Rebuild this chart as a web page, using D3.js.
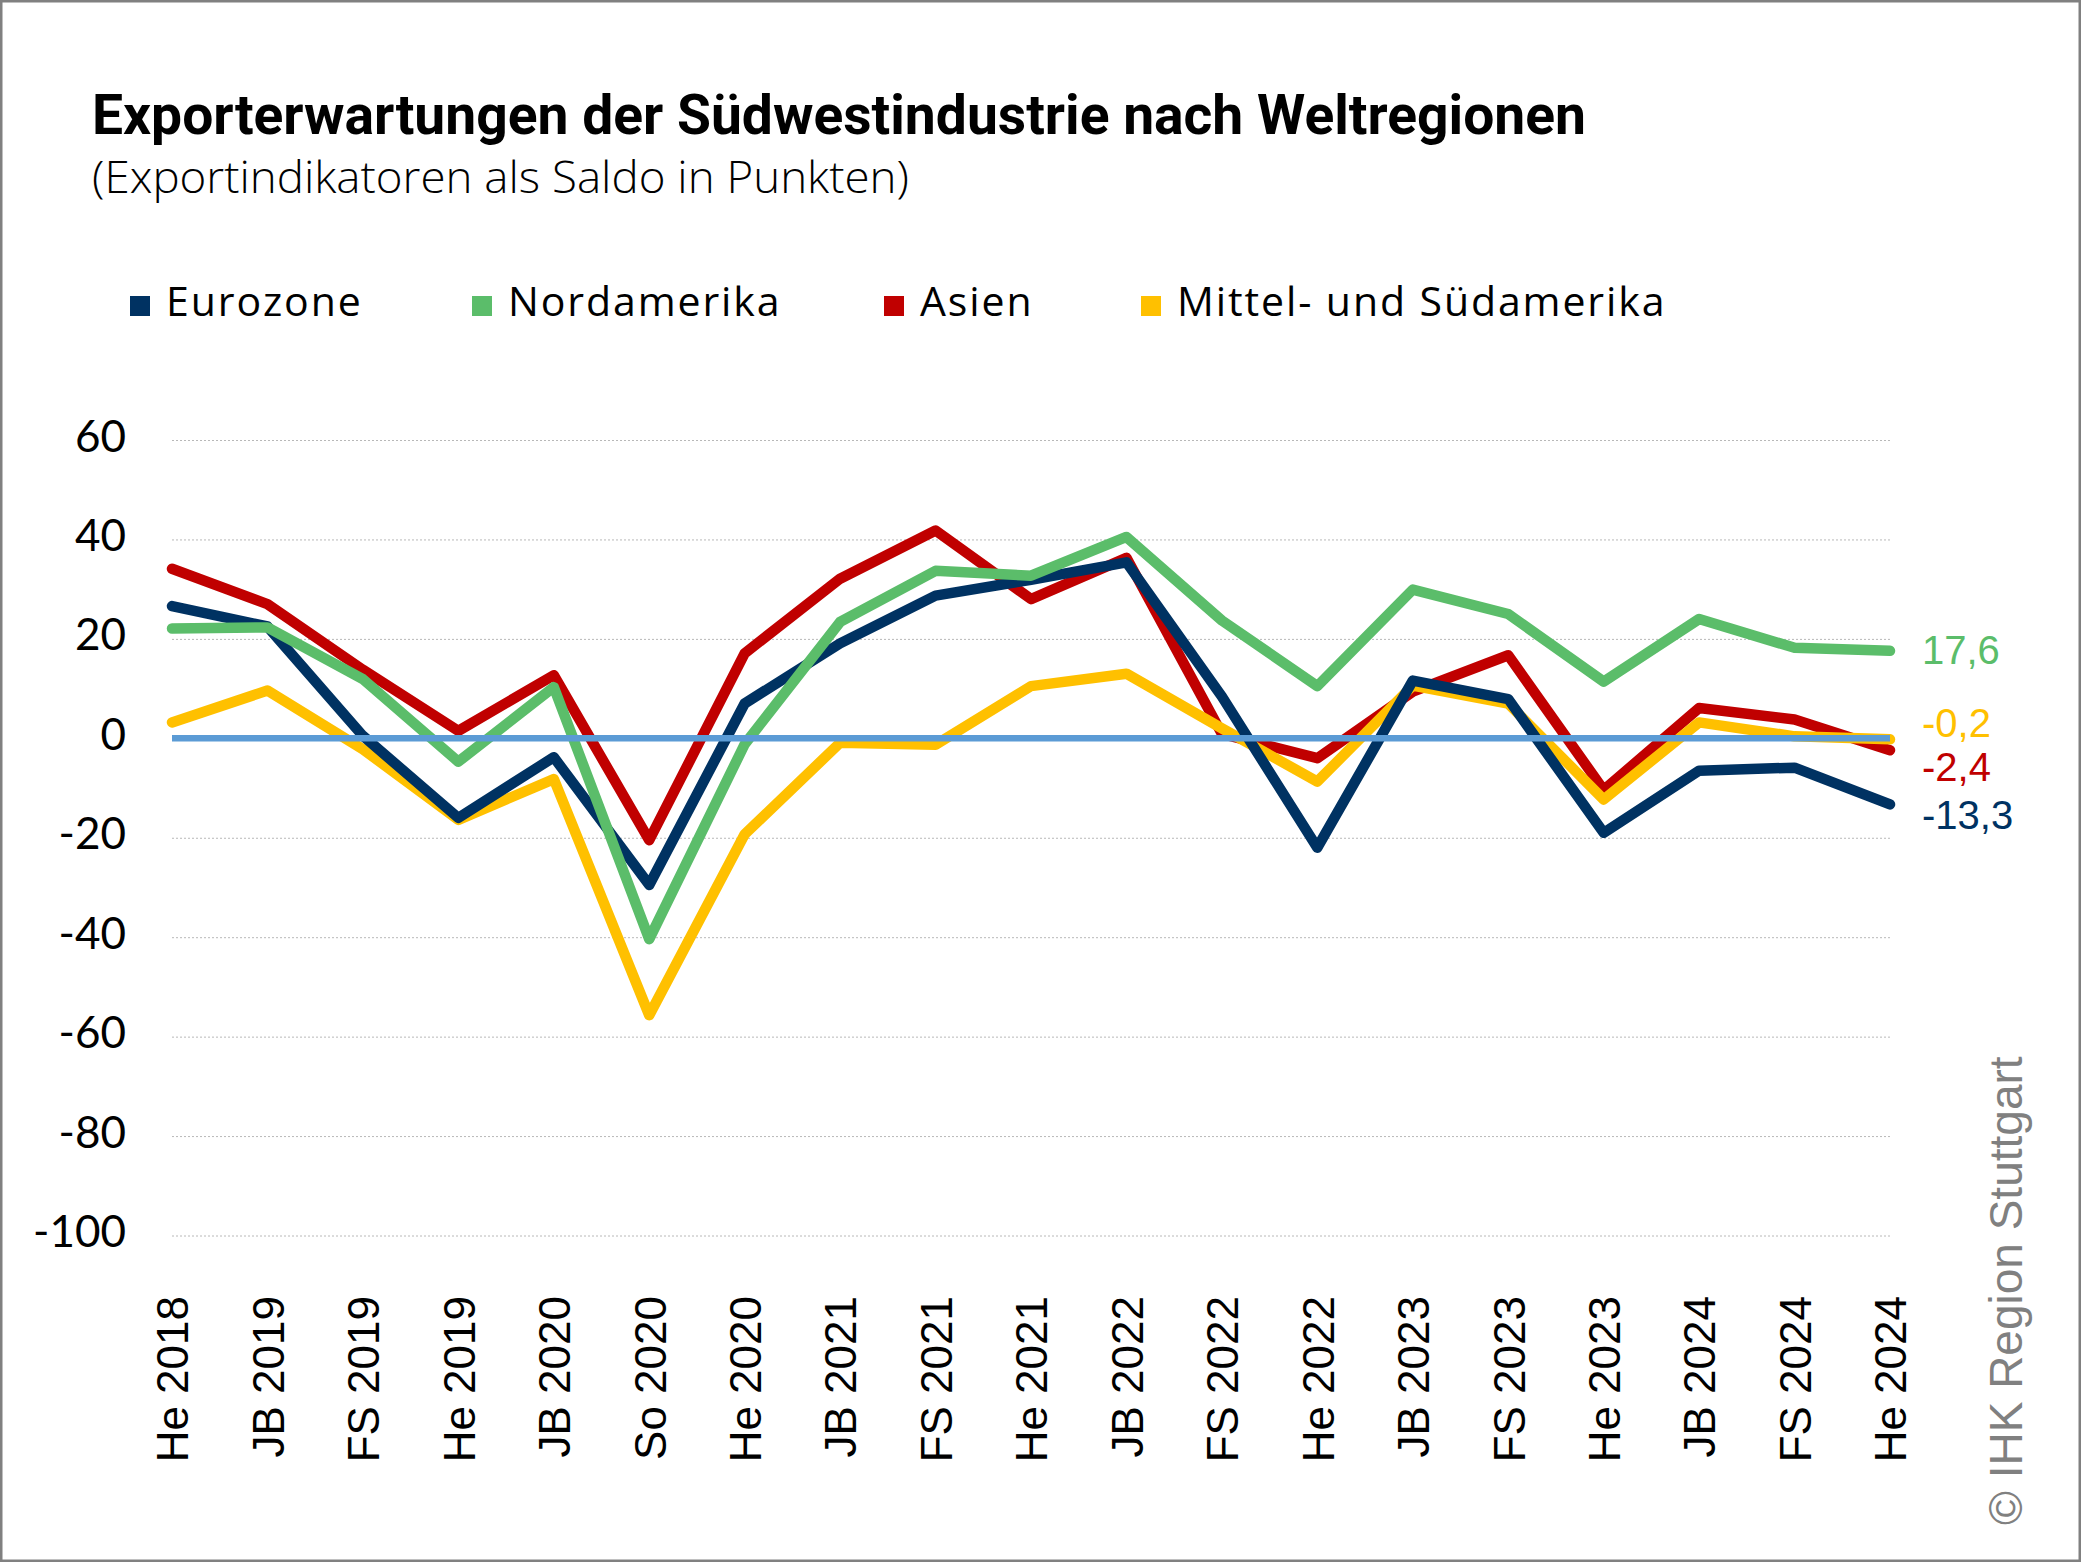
<!DOCTYPE html>
<html>
<head>
<meta charset="utf-8">
<script src="https://cdn.jsdelivr.net/npm/d3@7"></script>
<style>
  html, body { margin: 0; padding: 0; background: #fff; }
  svg { display: block; }
</style>
</head>
<body>
<script>
// ---------- DATA ----------
const categories = ["He 2018","JB 2019","FS 2019","He 2019","JB 2020","So 2020","He 2020","JB 2021","FS 2021","He 2021","JB 2022","FS 2022","He 2022","JB 2023","FS 2023","He 2023","JB 2024","FS 2024","He 2024"];
const eurozone          = [26.6, 22.5, 0.5, -16.0, -3.8, -29.5, 7.0, 19.1, 28.7, 31.9, 35.4, 8.4, -22.0, 11.6, 7.9, -19.0, -6.5, -5.9, -13.3];
const nordamerika       = [22.1, 22.3, 11.9, -4.7, 10.3, -40.4, -1.2, 23.4, 33.7, 32.7, 40.5, 23.7, 10.5, 29.9, 25.0, 11.4, 24.0, 18.2, 17.6];
const asien             = [34.1, 27.0, 13.8, 1.5, 12.7, -20.5, 17.1, 32.1, 41.8, 28.0, 36.3, 0.9, -4.0, 9.4, 16.7, -10.4, 6.1, 3.8, -2.4];
const mittelSuedamerika = [3.2, 9.6, -2.2, -16.4, -8.2, -55.7, -19.3, -0.9, -1.3, 10.5, 13.0, 2.0, -8.7, 10.6, 7.0, -12.3, 3.2, 0.4, -0.2];
const seriesNames = ["Eurozone", "Nordamerika", "Asien", "Mittel- und Südamerika"];
const yTicks = [60, 40, 20, 0, -20, -40, -60, -80, -100];
const titleText = "Exporterwartungen der Südwestindustrie nach Weltregionen";
const subtitleText = "(Exportindikatoren als Saldo in Punkten)";
const sourceText = "© IHK Region Stuttgart";

// ---------- LAYOUT / STYLE ----------
const W = 2081, H = 1562;
const colors = { "Eurozone": "#003262", "Nordamerika": "#5BBD6A", "Asien": "#C00000", "Mittel- und Südamerika": "#FFC000" };
const seriesValues = { "Eurozone": eurozone, "Nordamerika": nordamerika, "Asien": asien, "Mittel- und Südamerika": mittelSuedamerika };
const drawOrder = ["Asien", "Mittel- und Südamerika", "Eurozone", "Nordamerika"];
const endLabelDy = { "Eurozone": 10, "Nordamerika": -1, "Asien": 16, "Mittel- und Südamerika": -17 };
const legendX = [130, 472, 884, 1141];

const svg = d3.select("body").append("svg").attr("width", W).attr("height", H);
svg.append("rect").attr("x", 0).attr("y", 0).attr("width", W).attr("height", H).attr("fill", "#fff");

const x = d3.scalePoint().domain(categories).range([172, 1890]);
const y = d3.scaleLinear().domain([-100, 60]).range([1235.5, 440]);

// Title
svg.append("text").attr("x", 92).attr("y", 134)
  .attr("font-family", "Roboto, 'Open Sans', sans-serif").attr("font-weight", 700)
  .attr("font-size", 56).attr("fill", "#000")
  .attr("textLength", 1494).attr("lengthAdjust", "spacingAndGlyphs")
  .text(titleText);
svg.append("text").attr("x", 92).attr("y", 193)
  .attr("font-family", "'Open Sans', sans-serif").attr("font-weight", 300)
  .attr("font-size", 44).attr("fill", "#000")
  .attr("textLength", 817).attr("lengthAdjust", "spacingAndGlyphs")
  .text(subtitleText);

// Legend
const leg = svg.append("g");
seriesNames.forEach((name, i) => {
  const g = leg.append("g").attr("transform", `translate(${legendX[i]},0)`);
  g.append("rect").attr("x", 0).attr("y", 296).attr("width", 20).attr("height", 20).attr("fill", colors[name]);
  g.append("text").attr("x", 36).attr("y", 316)
    .attr("font-family", "'Open Sans', sans-serif").attr("font-weight", 400)
    .attr("font-size", 41).attr("letter-spacing", 1.9).attr("fill", "#000").text(name);
});

// Gridlines + y axis labels
const yAxis = d3.axisLeft(y).tickValues(yTicks).tickSize(-(1890 - 172)).tickFormat(d => String(d));
const gy = svg.append("g").attr("transform", "translate(172,0)").call(yAxis);
gy.select(".domain").remove();
gy.selectAll(".tick line").attr("stroke", "#b8b8b8").attr("stroke-width", 1).attr("stroke-dasharray", "2,2");
gy.selectAll(".tick text")
  .attr("x", -46).attr("dy", "0.32em").attr("y", -3)
  .attr("font-family", "Lato, 'Open Sans', sans-serif").attr("font-size", 44).attr("fill", "#000");
gy.selectAll(".tick").filter(d => d === 0).select("line").attr("stroke", "none");

// X axis labels
const xAxis = d3.axisBottom(x).tickSize(0).tickPadding(0);
const gx = svg.append("g").attr("transform", "translate(0,1296)").call(xAxis);
gx.select(".domain").remove();
gx.selectAll(".tick text")
  .attr("transform", "rotate(-90)")
  .attr("x", 0).attr("y", 0).attr("dy", "0.36em")
  .attr("text-anchor", "end")
  .attr("font-family", "'Liberation Sans', Arial, sans-serif").attr("font-size", 44).attr("fill", "#000");

// Lines
const line = d3.line().x((d, i) => x(categories[i])).y(d => y(d));
drawOrder.forEach(name => {
  svg.append("path").datum(seriesValues[name])
    .attr("d", line).attr("fill", "none")
    .attr("stroke", colors[name]).attr("stroke-width", 10.5)
    .attr("stroke-linejoin", "round").attr("stroke-linecap", "round");
});

// Zero line
svg.append("line").attr("x1", x(categories[0])).attr("x2", x(categories[categories.length - 1]))
  .attr("y1", y(0)).attr("y2", y(0)).attr("stroke", "#5B9BD5").attr("stroke-width", 6.5);

// End labels
const deFmt = d3.formatLocale({ decimal: ",", thousands: ".", grouping: [3], currency: ["", " €"], minus: "-" }).format(".1f");
seriesNames.forEach(name => {
  const vals = seriesValues[name];
  const last = vals[vals.length - 1];
  svg.append("text").attr("x", 1922).attr("y", y(last) + endLabelDy[name]).attr("dy", "0.36em")
    .attr("font-family", "'Liberation Sans', Arial, sans-serif").attr("font-size", 40)
    .attr("fill", colors[name]).text(deFmt(last));
});

// Source
svg.append("text").attr("transform", "translate(2022,1525) rotate(-90)")
  .attr("font-family", "'Liberation Sans', Arial, sans-serif").attr("font-size", 46)
  .attr("fill", "#808080").text(sourceText);

// Frame
svg.append("rect").attr("x", 1.25).attr("y", 1.25).attr("width", W - 2.5).attr("height", H - 2.5)
  .attr("fill", "none").attr("stroke", "#808080").attr("stroke-width", 2.5);
</script>
</body>
</html>
